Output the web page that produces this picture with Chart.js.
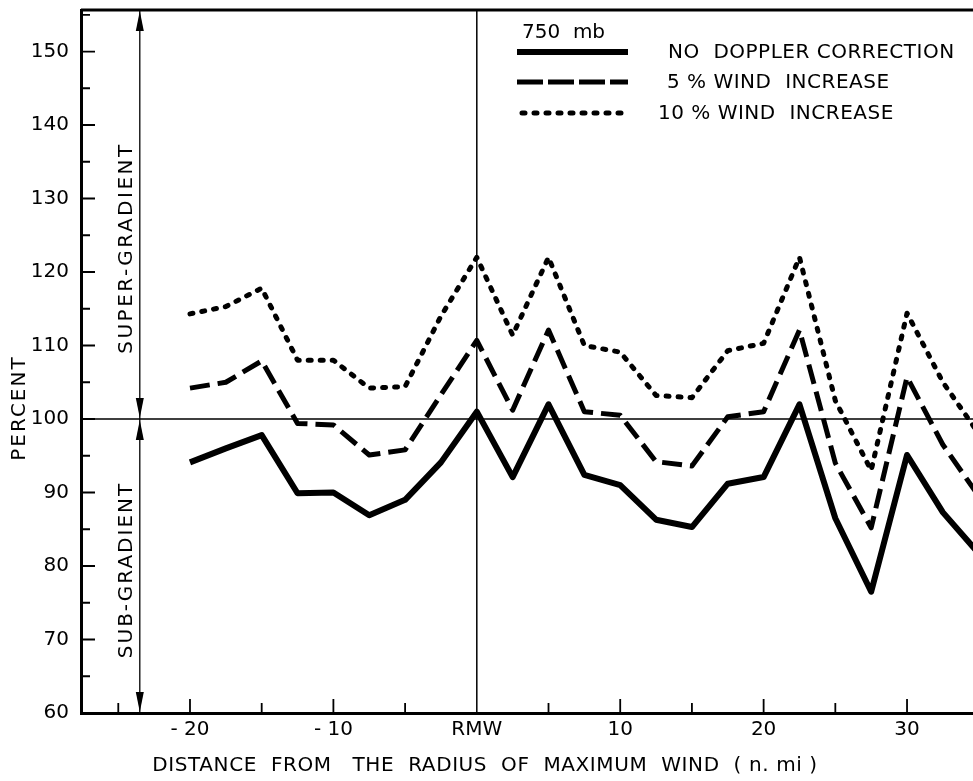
<!DOCTYPE html>
<html>
<head>
<meta charset="utf-8">
<script src="https://cdn.jsdelivr.net/npm/chart.js@4"></script>
<style>
  html, body { margin: 0; padding: 0; background: #fff; }
  #wrap { width: 973px; height: 781px; }
</style>
</head>
<body>
<div id="wrap"><canvas id="chart" width="973" height="781"></canvas></div>
<script>
// distance from the RMW (n mi)
var dist = [-20, -17.5, -15, -12.5, -10, -7.5, -5, -2.5, 0, 2.5, 5, 7.5, 10, 12.5, 15, 17.5, 20, 22.5, 25, 27.5, 30, 32.5, 35];

// percent of gradient wind
var noDoppler = [94.1, 96.0, 97.8, 89.9, 90.0, 86.9, 89.0, 94.1, 101.0, 92.1, 102.0, 92.4, 91.0, 86.3, 85.3, 91.2, 92.1, 102.0, 86.5, 76.5, 95.1, 87.3, 81.7];
var wind5 = [104.2, 105.0, 107.9, 99.4, 99.2, 95.1, 95.8, 103.3, 110.7, 101.2, 112.1, 101.0, 100.5, 94.2, 93.6, 100.3, 101.0, 112.1, 94.0, 85.2, 105.7, 96.5, 89.5];
var wind10 = [114.3, 115.3, 117.8, 108.0, 108.0, 104.2, 104.4, 114.0, 122.0, 111.4, 122.0, 110.0, 109.1, 103.2, 102.9, 109.3, 110.3, 122.0, 102.5, 93.0, 114.4, 105.0, 98.0];

var xTicks = [-20, -10, 0, 10, 20, 30];
var yTicks = [60, 70, 80, 90, 100, 110, 120, 130, 140, 150];

var seriesNames = ['NO  DOPPLER CORRECTION', '5 % WIND  INCREASE', '10 % WIND  INCREASE'];
var levelLabel = '750  mb';
var xTitle = 'DISTANCE  FROM   THE  RADIUS  OF  MAXIMUM  WIND  ( n. mi )';
var yTitle = 'PERCENT';

var FONT = '"DejaVu Sans", sans-serif';

function pts(ys) {
  return dist.map(function (x, i) { return { x: x, y: ys[i] }; });
}

var styles = [
  { dash: [], width: 6, cap: 'butt' },
  { dash: [20, 8], width: 5, cap: 'butt' },
  { dash: [3, 9], width: 5, cap: 'round' }
];

var extras = {
  id: 'extras',
  beforeDatasetsDraw: function (chart) {
    var ctx = chart.ctx, x = chart.scales.x, y = chart.scales.y, a = chart.chartArea;
    ctx.save();
    ctx.strokeStyle = '#000';
    // 100 % line and RMW line
    ctx.lineWidth = 1.5;
    ctx.beginPath();
    ctx.moveTo(a.left, y.getPixelForValue(100));
    ctx.lineTo(a.right, y.getPixelForValue(100));
    ctx.moveTo(x.getPixelForValue(0), a.top);
    ctx.lineTo(x.getPixelForValue(0), a.bottom);
    ctx.stroke();

    // super / sub gradient arrows
    var ax = x.getPixelForValue(-23.5);
    var y100 = y.getPixelForValue(100);
    ctx.lineWidth = 1.3;
    ctx.beginPath();
    ctx.moveTo(ax, a.top);
    ctx.lineTo(ax, a.bottom);
    ctx.stroke();
    function head(tipY, dir) {
      ctx.beginPath();
      ctx.moveTo(ax, tipY);
      ctx.lineTo(ax - 4, tipY - dir * 20);
      ctx.lineTo(ax + 4, tipY - dir * 20);
      ctx.closePath();
      ctx.fill();
    }
    ctx.fillStyle = '#000';
    head(a.top + 1, -1);
    head(y100 - 1, 1);
    head(y100 + 1, -1);
    head(a.bottom - 1, 1);

    // inward tick marks
    ctx.lineWidth = 1.8;
    ctx.beginPath();
    for (var v = 65; v <= 155; v += 5) {
      var py = y.getPixelForValue(v);
      var len = (v % 10 === 0) ? 14 : 9;
      ctx.moveTo(a.left, py);
      ctx.lineTo(a.left + len, py);
    }
    for (var u = -25; u <= 35; u += 5) {
      if (u === 0) continue;
      var px = x.getPixelForValue(u);
      var l2 = (u % 10 === 0) ? 14 : 10;
      ctx.moveTo(px, a.bottom);
      ctx.lineTo(px, a.bottom - l2);
    }
    ctx.stroke();

    // top frame
    ctx.lineWidth = 3;
    ctx.beginPath();
    ctx.moveTo(a.left, a.top);
    ctx.lineTo(a.right, a.top);
    ctx.stroke();

    // rotated labels
    ctx.fillStyle = '#000';
    ctx.textAlign = 'center';
    ctx.textBaseline = 'middle';
    ctx.font = '20px ' + FONT;
    function vtext(t, cx, cy, sp) {
      ctx.save();
      ctx.letterSpacing = sp + 'px';
      ctx.translate(cx, cy);
      ctx.rotate(-Math.PI / 2);
      ctx.fillText(t, 0, 0);
      ctx.restore();
    }
    vtext('SUPER-GRADIENT', ax - 13, 248, 2.5);
    vtext('SUB-GRADIENT', ax - 13, 570, 2);
    vtext(yTitle, 20, 408, 2);

    // x axis title
    ctx.save();
    ctx.font = '20px ' + FONT;
    ctx.letterSpacing = '0.6px';
    ctx.fillText(xTitle, 485, 766);
    ctx.restore();

    // legend
    ctx.textAlign = 'left';
    ctx.font = '20px ' + FONT;
    ctx.fillText(levelLabel, 522, 33);
    var ly = [52, 82, 113];
    var lx = [668, 667, 658];
    for (var i = 0; i < 3; i++) {
      ctx.save();
      ctx.lineWidth = styles[i].width;
      ctx.lineCap = styles[i].cap;
      ctx.setLineDash(i === 1 ? [26, 5] : styles[i].dash);
      ctx.beginPath();
      ctx.moveTo(i === 2 ? 522 : 517, ly[i]);
      ctx.lineTo(628, ly[i]);
      ctx.stroke();
      ctx.restore();
      ctx.save();
      ctx.letterSpacing = '0.5px';
      ctx.fillText(seriesNames[i], lx[i], ly[i] + 1);
      ctx.restore();
    }
    ctx.restore();
  }
};

var chart = new Chart('chart', {
  type: 'line',
  data: {
    datasets: [noDoppler, wind5, wind10].map(function (ys, i) {
      return {
        data: pts(ys),
        borderColor: '#000',
        borderWidth: styles[i].width,
        borderDash: styles[i].dash,
        borderCapStyle: styles[i].cap,
        borderJoinStyle: 'round',
        pointRadius: 0,
        fill: false,
        tension: 0
      };
    })
  },
  options: {
    responsive: false,
    animation: false,
    layout: { padding: { top: 10, right: 0, left: 0, bottom: 0 } },
    plugins: {
      legend: { display: false },
      tooltip: { enabled: false }
    },
    scales: {
      x: {
        type: 'linear',
        min: -27.6,
        max: 34.6,
        afterFit: function (s) {
          s.height = 68;
          s.paddingLeft = 0; s.paddingRight = 0;
        },
        afterBuildTicks: function (s) { s.ticks = xTicks.map(function (v) { return { value: v }; }); },
        ticks: {
          autoSkip: false,
          maxRotation: 0,
          padding: 5,
          color: '#000',
          font: { family: FONT, size: 20 },
          callback: function (v) { return v === 0 ? 'RMW' : (v < 0 ? '- ' + Math.abs(v) : String(v)); }
        },
        grid: { display: false, drawTicks: false },
        border: { display: true, width: 3, color: '#000' }
      },
      y: {
        min: 60,
        max: 155.65,
        afterFit: function (s) {
          s.width = 81;
          s.paddingTop = 0; s.paddingBottom = 0;
        },
        afterBuildTicks: function (s) { s.ticks = yTicks.map(function (v) { return { value: v }; }); },
        ticks: {
          padding: 12,
          color: '#000',
          font: { family: FONT, size: 20 }
        },
        grid: { display: false, drawTicks: false },
        border: { display: true, width: 3, color: '#000' }
      }
    }
  },
  plugins: [extras]
});
</script>
</body>
</html>
